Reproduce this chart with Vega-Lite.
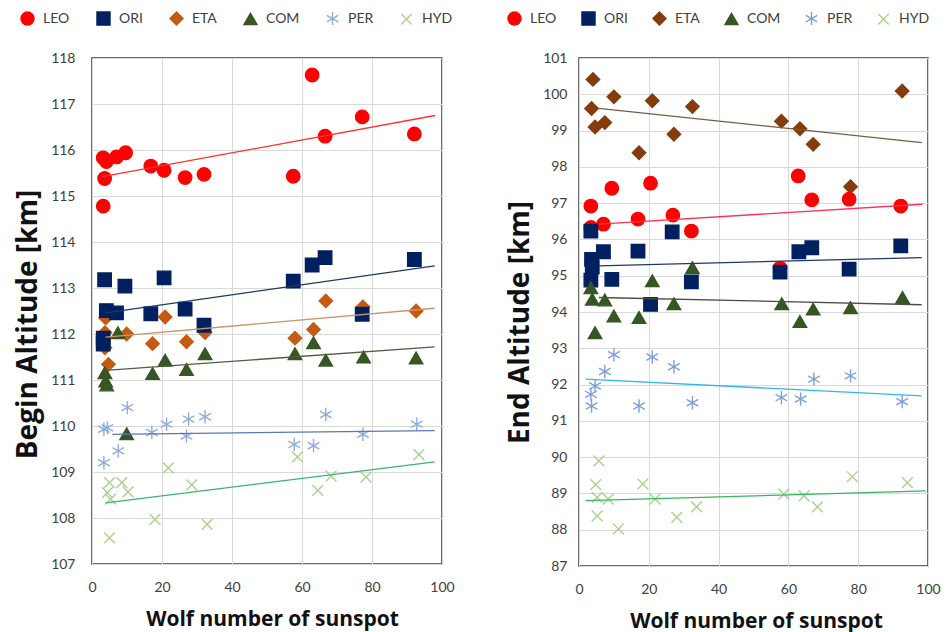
{
  "$schema": "https://vega.github.io/schema/vega-lite/v6.json",
  "background": "white",
  "padding": {"left": 13, "top": 10, "right": 10, "bottom": 4},
  "config": {
    "font": "Lato",
    "view": {"stroke": "#3a3a3a", "strokeWidth": 1.5},
    "axis": {
      "gridColor": "#D9D9D9",
      "gridWidth": 1,
      "domain": false,
      "ticks": false,
      "labelOverlap": false,
      "labelFont": "Lato",
      "labelFontSize": 14,
      "labelColor": "#404040",
      "titleFont": "Open Sans",
      "titleFontWeight": "bold",
      "titleColor": "#111111"
    },
    "legend": {"labelFont": "Lato", "labelFontSize": 14, "labelColor": "#404040"}
  },
  "spacing": 50,
  "datasets": {
    "lp": [
      {"s":"LEO","x":3.2,"y":115.83},{"s":"LEO","x":4.1,"y":115.75},{"s":"LEO","x":7.0,"y":115.85},{"s":"LEO","x":9.6,"y":115.94},{"s":"LEO","x":3.6,"y":115.38},{"s":"LEO","x":3.2,"y":114.78},{"s":"LEO","x":16.8,"y":115.65},{"s":"LEO","x":20.6,"y":115.56},{"s":"LEO","x":26.6,"y":115.40},{"s":"LEO","x":32.0,"y":115.47},{"s":"LEO","x":57.5,"y":115.43},{"s":"LEO","x":62.9,"y":117.63},{"s":"LEO","x":66.6,"y":116.30},{"s":"LEO","x":77.2,"y":116.72},{"s":"LEO","x":92.1,"y":116.35},
      {"s":"ETA","x":66.8,"y":112.72},{"s":"ETA","x":77.4,"y":112.59},{"s":"ETA","x":92.6,"y":112.5},{"s":"ETA","x":20.9,"y":112.37},{"s":"ETA","x":3.9,"y":112.35},{"s":"ETA","x":3.7,"y":112.03},{"s":"ETA","x":9.9,"y":112.0},{"s":"ETA","x":32.3,"y":112.03},{"s":"ETA","x":63.3,"y":112.1},{"s":"ETA","x":58.0,"y":111.91},{"s":"ETA","x":17.3,"y":111.79},{"s":"ETA","x":27.0,"y":111.83},{"s":"ETA","x":3.7,"y":111.70},{"s":"ETA","x":4.7,"y":111.34},
      {"s":"ORI","x":3.6,"y":113.18},{"s":"ORI","x":9.4,"y":113.04},{"s":"ORI","x":20.6,"y":113.22},{"s":"ORI","x":57.5,"y":113.15},{"s":"ORI","x":62.9,"y":113.5},{"s":"ORI","x":66.6,"y":113.66},{"s":"ORI","x":92.1,"y":113.62},{"s":"ORI","x":4.1,"y":112.51},{"s":"ORI","x":7.0,"y":112.46},{"s":"ORI","x":16.8,"y":112.44},{"s":"ORI","x":26.6,"y":112.54},{"s":"ORI","x":32.0,"y":112.19},{"s":"ORI","x":77.2,"y":112.43},{"s":"ORI","x":3.2,"y":111.91},{"s":"ORI","x":3.2,"y":111.78},
      {"s":"COM","x":7.4,"y":112.03},{"s":"COM","x":63.3,"y":111.81},{"s":"COM","x":58.0,"y":111.57},{"s":"COM","x":32.3,"y":111.57},{"s":"COM","x":20.9,"y":111.43},{"s":"COM","x":66.8,"y":111.43},{"s":"COM","x":77.6,"y":111.50},{"s":"COM","x":92.6,"y":111.48},{"s":"COM","x":17.3,"y":111.14},{"s":"COM","x":27.0,"y":111.23},{"s":"COM","x":3.7,"y":111.16},{"s":"COM","x":3.9,"y":110.98},{"s":"COM","x":4.2,"y":110.89},{"s":"COM","x":9.9,"y":109.83},
      {"s":"PER","x":10.1,"y":110.40},{"s":"PER","x":66.8,"y":110.25},{"s":"PER","x":32.3,"y":110.20},{"s":"PER","x":27.6,"y":110.15},{"s":"PER","x":21.3,"y":110.04},{"s":"PER","x":92.8,"y":110.04},{"s":"PER","x":4.4,"y":109.96},{"s":"PER","x":3.4,"y":109.93},{"s":"PER","x":17.1,"y":109.86},{"s":"PER","x":27.0,"y":109.78},{"s":"PER","x":77.4,"y":109.82},{"s":"PER","x":57.8,"y":109.60},{"s":"PER","x":63.3,"y":109.57},{"s":"PER","x":7.5,"y":109.46},{"s":"PER","x":3.4,"y":109.20},
      {"s":"HYD","x":93.4,"y":109.38},{"s":"HYD","x":58.7,"y":109.33},{"s":"HYD","x":21.8,"y":109.09},{"s":"HYD","x":68.3,"y":108.91},{"s":"HYD","x":78.3,"y":108.89},{"s":"HYD","x":64.5,"y":108.60},{"s":"HYD","x":28.5,"y":108.72},{"s":"HYD","x":5.0,"y":108.77},{"s":"HYD","x":8.5,"y":108.77},{"s":"HYD","x":10.3,"y":108.57},{"s":"HYD","x":4.4,"y":108.55},{"s":"HYD","x":5.3,"y":108.41},{"s":"HYD","x":18.0,"y":107.97},{"s":"HYD","x":32.9,"y":107.86},{"s":"HYD","x":5.0,"y":107.57}
    ],
    "ll": [
      {"s":"LEO","x":3.0,"y":115.42},{"s":"LEO","x":98.0,"y":116.75},
      {"s":"ORI","x":3.9,"y":112.46},{"s":"ORI","x":97.9,"y":113.48},
      {"s":"ETA","x":3.9,"y":111.93},{"s":"ETA","x":97.9,"y":112.56},
      {"s":"COM","x":3.9,"y":111.21},{"s":"COM","x":97.9,"y":111.72},
      {"s":"PER","x":5.8,"y":109.82},{"s":"PER","x":97.9,"y":109.9},
      {"s":"HYD","x":3.9,"y":108.33},{"s":"HYD","x":97.9,"y":109.22}
    ],
    "rp": [
      {"s":"ETA","x":4.0,"y":100.41},{"s":"ETA","x":3.6,"y":99.61},{"s":"ETA","x":10.0,"y":99.93},{"s":"ETA","x":21.0,"y":99.82},{"s":"ETA","x":32.5,"y":99.66},{"s":"ETA","x":4.6,"y":99.10},{"s":"ETA","x":7.4,"y":99.22},{"s":"ETA","x":27.2,"y":98.90},{"s":"ETA","x":17.2,"y":98.39},{"s":"ETA","x":58.0,"y":99.26},{"s":"ETA","x":63.3,"y":99.05},{"s":"ETA","x":67.1,"y":98.62},{"s":"ETA","x":92.6,"y":100.09},{"s":"ETA","x":77.8,"y":97.45},
      {"s":"LEO","x":3.4,"y":96.92},{"s":"LEO","x":9.4,"y":97.41},{"s":"LEO","x":20.5,"y":97.55},{"s":"LEO","x":62.8,"y":97.75},{"s":"LEO","x":66.7,"y":97.09},{"s":"LEO","x":77.4,"y":97.11},{"s":"LEO","x":92.2,"y":96.92},{"s":"LEO","x":7.0,"y":96.42},{"s":"LEO","x":3.4,"y":96.33},{"s":"LEO","x":16.9,"y":96.56},{"s":"LEO","x":26.9,"y":96.67},{"s":"LEO","x":32.2,"y":96.23},{"s":"LEO","x":57.6,"y":95.21},
      {"s":"ORI","x":3.4,"y":96.23},{"s":"ORI","x":26.7,"y":96.21},{"s":"ORI","x":7.0,"y":95.66},{"s":"ORI","x":16.9,"y":95.68},{"s":"ORI","x":63.0,"y":95.66},{"s":"ORI","x":66.7,"y":95.77},{"s":"ORI","x":92.2,"y":95.82},{"s":"ORI","x":3.6,"y":95.45},{"s":"ORI","x":3.8,"y":95.24},{"s":"ORI","x":57.6,"y":95.10},{"s":"ORI","x":77.4,"y":95.18},{"s":"ORI","x":9.4,"y":94.90},{"s":"ORI","x":3.4,"y":94.88},{"s":"ORI","x":32.2,"y":94.83},{"s":"ORI","x":20.5,"y":94.21},
      {"s":"COM","x":21.0,"y":94.86},{"s":"COM","x":32.5,"y":95.22},{"s":"COM","x":92.7,"y":94.40},{"s":"COM","x":58.1,"y":94.23},{"s":"COM","x":67.1,"y":94.08},{"s":"COM","x":77.8,"y":94.12},{"s":"COM","x":63.3,"y":93.74},{"s":"COM","x":27.2,"y":94.23},{"s":"COM","x":7.4,"y":94.33},{"s":"COM","x":3.8,"y":94.35},{"s":"COM","x":3.4,"y":94.67},{"s":"COM","x":10.0,"y":93.89},{"s":"COM","x":17.2,"y":93.85},{"s":"COM","x":4.6,"y":93.43},
      {"s":"PER","x":10.0,"y":92.82},{"s":"PER","x":21.0,"y":92.76},{"s":"PER","x":27.2,"y":92.49},{"s":"PER","x":7.4,"y":92.36},{"s":"PER","x":4.6,"y":91.96},{"s":"PER","x":3.4,"y":91.73},{"s":"PER","x":3.6,"y":91.41},{"s":"PER","x":17.2,"y":91.41},{"s":"PER","x":32.5,"y":91.50},{"s":"PER","x":58.0,"y":91.64},{"s":"PER","x":63.5,"y":91.60},{"s":"PER","x":67.3,"y":92.15},{"s":"PER","x":77.8,"y":92.24},{"s":"PER","x":92.6,"y":91.53},
      {"s":"HYD","x":5.7,"y":89.90},{"s":"HYD","x":78.3,"y":89.46},{"s":"HYD","x":94.1,"y":89.30},{"s":"HYD","x":18.3,"y":89.26},{"s":"HYD","x":4.8,"y":89.24},{"s":"HYD","x":58.7,"y":88.98},{"s":"HYD","x":64.5,"y":88.93},{"s":"HYD","x":5.2,"y":88.89},{"s":"HYD","x":8.4,"y":88.84},{"s":"HYD","x":21.8,"y":88.84},{"s":"HYD","x":68.3,"y":88.63},{"s":"HYD","x":33.7,"y":88.63},{"s":"HYD","x":5.2,"y":88.38},{"s":"HYD","x":28.0,"y":88.34},{"s":"HYD","x":11.3,"y":88.02}
    ],
    "rl": [
      {"s":"ETA","x":5.7,"y":99.61},{"s":"ETA","x":98.2,"y":98.67},
      {"s":"LEO","x":5.7,"y":96.42},{"s":"LEO","x":98.4,"y":96.97},
      {"s":"ORI","x":5.7,"y":95.27},{"s":"ORI","x":98.2,"y":95.50},
      {"s":"COM","x":5.7,"y":94.40},{"s":"COM","x":98.2,"y":94.20},
      {"s":"PER","x":1.9,"y":92.15},{"s":"PER","x":98.2,"y":91.69},
      {"s":"HYD","x":1.9,"y":88.80},{"s":"HYD","x":99.3,"y":89.07}
    ]
  },
  "hconcat": [
    {
      "width": 350,
      "height": 506,
      "encoding": {
        "x": {"field": "x", "type": "quantitative", "scale": {"domain": [0, 100], "nice": false}, "axis": {"values": [0,20,40,60,80,100], "labelFlush": false, "labelOverlap": false, "labelPadding": 16, "title": "Wolf number of sunspot", "titleFontSize": 21, "titlePadding": 14, "titleX": 180}},
        "y": {"field": "y", "type": "quantitative", "scale": {"domain": [107, 118], "nice": false, "zero": false}, "axis": {"values": [107,108,109,110,111,112,113,114,115,116,117,118], "labelOverlap": false, "labelPadding": 17, "title": "Begin Altitude [km]", "titleFontSize": 28, "titlePadding": 8, "titleY": 266}}
      },
      "layer": [
        {
          "data": {"name": "lp"},
          "mark": {"type": "point", "size": 180, "strokeWidth": 1.4, "opacity": 1},
          "encoding": {
            "shape": {"field": "s", "type": "nominal", "scale": {"domain": ["LEO","ORI","ETA","COM","PER","HYD"], "range": ["circle","square","diamond","triangle-up","M0,-1L0,1M-0.87,-0.5L0.87,0.5M-0.87,0.5L0.87,-0.5","M-0.8,-0.8L0.8,0.8M-0.8,0.8L0.8,-0.8"]}, "legend": {"orient": "none", "legendX": -72, "legendY": -47, "direction": "horizontal", "title": null, "symbolSize": 170, "symbolStrokeWidth": 1.4, "columnPadding": 24, "labelOffset": 8}},
            "fill": {"field": "s", "type": "nominal", "scale": {"domain": ["LEO","ORI","ETA","COM","PER","HYD"], "range": ["#FF0000","#002060","#C55A11","#375623","transparent","transparent"]}, "legend": {"orient": "none", "legendX": -72, "legendY": -47, "direction": "horizontal", "title": null, "symbolSize": 170, "symbolStrokeWidth": 1.4, "columnPadding": 24, "labelOffset": 8}},
            "stroke": {"field": "s", "type": "nominal", "scale": {"domain": ["LEO","ORI","ETA","COM","PER","HYD"], "range": ["#FF0000","#002060","#C55A11","#375623","#8FAADC","#A9D18E"]}, "legend": {"orient": "none", "legendX": -72, "legendY": -47, "direction": "horizontal", "title": null, "symbolSize": 170, "symbolStrokeWidth": 1.4, "columnPadding": 24, "labelOffset": 8}}
          }
        },
        {
          "data": {"name": "ll"},
          "mark": {"type": "line", "strokeWidth": 1.3},
          "encoding": {
            "color": {"field": "s", "type": "nominal", "scale": {"domain": ["LEO","ORI","ETA","COM","PER","HYD"], "range": ["#FF3030","#1F3864","#C8966E","#4F5D3C","#5B79B0","#3CB371"]}, "legend": null}
          }
        }
      ]
    },
    {
      "width": 349,
      "height": 508,
      "encoding": {
        "x": {"field": "x", "type": "quantitative", "scale": {"domain": [0, 100], "nice": false}, "axis": {"values": [0,20,40,60,80,100], "labelFlush": false, "labelOverlap": false, "labelPadding": 16, "title": "Wolf number of sunspot", "titleFontSize": 21, "titlePadding": 14, "titleX": 177}},
        "y": {"field": "y", "type": "quantitative", "scale": {"domain": [87, 101], "nice": false, "zero": false}, "axis": {"values": [87,88,89,90,91,92,93,94,95,96,97,98,99,100,101], "labelOverlap": false, "labelPadding": 12, "title": "End  Altitude [km]", "titleFontSize": 28, "titlePadding": 8, "titleY": 264}}
      },
      "layer": [
        {
          "data": {"name": "rp"},
          "mark": {"type": "point", "size": 180, "strokeWidth": 1.4, "opacity": 1},
          "encoding": {
            "shape": {"field": "s", "type": "nominal", "scale": {"domain": ["LEO","ORI","ETA","COM","PER","HYD"], "range": ["circle","square","diamond","triangle-up","M0,-1L0,1M-0.87,-0.5L0.87,0.5M-0.87,0.5L0.87,-0.5","M-0.8,-0.8L0.8,0.8M-0.8,0.8L0.8,-0.8"]}, "legend": {"orient": "none", "legendX": -72, "legendY": -47, "direction": "horizontal", "title": null, "symbolSize": 170, "symbolStrokeWidth": 1.4, "columnPadding": 22, "labelOffset": 8}},
            "fill": {"field": "s", "type": "nominal", "scale": {"domain": ["LEO","ORI","ETA","COM","PER","HYD"], "range": ["#FF0000","#002060","#843C0C","#375623","transparent","transparent"]}, "legend": {"orient": "none", "legendX": -72, "legendY": -47, "direction": "horizontal", "title": null, "symbolSize": 170, "symbolStrokeWidth": 1.4, "columnPadding": 22, "labelOffset": 8}},
            "stroke": {"field": "s", "type": "nominal", "scale": {"domain": ["LEO","ORI","ETA","COM","PER","HYD"], "range": ["#FF0000","#002060","#843C0C","#375623","#7EA0D8","#A9D18E"]}, "legend": {"orient": "none", "legendX": -72, "legendY": -47, "direction": "horizontal", "title": null, "symbolSize": 170, "symbolStrokeWidth": 1.4, "columnPadding": 22, "labelOffset": 8}}
          }
        },
        {
          "data": {"name": "rl"},
          "mark": {"type": "line", "strokeWidth": 1.3},
          "encoding": {
            "color": {"field": "s", "type": "nominal", "scale": {"domain": ["LEO","ORI","ETA","COM","PER","HYD"], "range": ["#FF3050","#1F3864","#7A5C3E","#4A4F40","#30B8E8","#30B860"]}, "legend": null}
          }
        }
      ]
    }
  ],
  "resolve": {"scale": {"y": "independent", "shape": "independent", "fill": "independent", "stroke": "independent", "color": "independent"}, "legend": {"shape": "independent", "fill": "independent", "stroke": "independent"}}
}
